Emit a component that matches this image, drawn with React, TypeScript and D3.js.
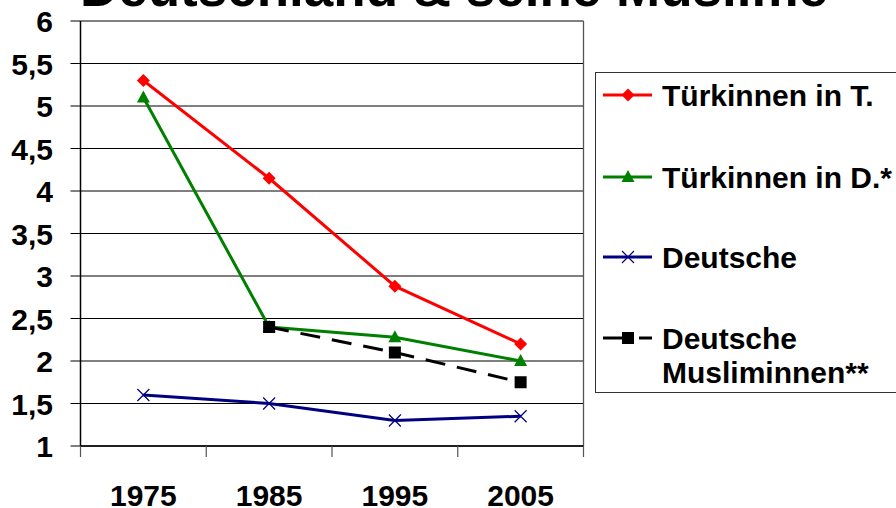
import React from "react";
import * as d3 from "d3";

const years = ["1975", "1985", "1995", "2005"];
const tuerkinnenT = [5.3, 4.15, 2.88, 2.2];
const tuerkinnenD = [5.1, 2.4, 2.28, 2.0];
const deutsche = [1.6, 1.5, 1.3, 1.35];
const deutscheMusliminnen: (number | null)[] = [null, 2.4, 2.1, 1.75];
const yTicks = [1, 1.5, 2, 2.5, 3, 3.5, 4, 4.5, 5, 5.5, 6];
const title = "Deutschland & seine Muslime";

type Series = {
  name: string[];
  values: (number | null)[];
  color: string;
  marker: "diamond" | "triangle" | "x" | "square";
  dash?: string;
};

const series: Series[] = [
  { name: ["Türkinnen in T."], values: tuerkinnenT, color: "#FF0000", marker: "diamond" },
  { name: ["Türkinnen in D.*"], values: tuerkinnenD, color: "#008000", marker: "triangle" },
  { name: ["Deutsche"], values: deutsche, color: "#000080", marker: "x" },
  { name: ["Deutsche", "Musliminnen**"], values: deutscheMusliminnen, color: "#000000", marker: "square", dash: "20 12" },
];

const FONT = "'Liberation Sans', Arial, Helvetica, sans-serif";

function Marker({ type, x, y, color }: { type: Series["marker"]; x: number; y: number; color: string }) {
  if (type === "diamond") {
    const s = 6.5;
    return <path d={`M${x},${y - s}L${x + s},${y}L${x},${y + s}L${x - s},${y}Z`} fill={color} />;
  }
  if (type === "triangle") {
    return <path d={`M${x},${y - 7}L${x + 6.5},${y + 5}L${x - 6.5},${y + 5}Z`} fill={color} />;
  }
  if (type === "square") {
    return <rect x={x - 6} y={y - 6} width={12} height={12} fill={color} />;
  }
  const s = 6;
  return (
    <path
      d={`M${x - s},${y - s}L${x + s},${y + s}M${x - s},${y + s}L${x + s},${y - s}`}
      stroke={color}
      strokeWidth={1.2}
      fill="none"
    />
  );
}

export default function App() {
  const W = 896;
  const H = 508;
  const left = 80.5;
  const right = 583.5;
  const top = 21;
  const bottom = 446;

  const x = d3.scaleBand<string>().domain(years).range([left, right]);
  const y = d3.scaleLinear().domain([1, 6]).range([bottom, top]);
  const cx = (yr: string) => (x(yr) as number) + x.bandwidth() / 2;

  const line = d3
    .line<{ yr: string; v: number | null }>()
    .defined((d) => d.v !== null)
    .x((d) => cx(d.yr))
    .y((d) => y(d.v as number));

  const boundaries = [...years.map((yr) => x(yr) as number), right];

  const legendX = 595.5;
  const legendY = 72.5;
  const legendRowY = [95, 177, 257, 338];

  return (
    <svg
      width={W}
      height={H}
      style={{ position: "absolute", left: 0, top: 0, background: "#fff" }}
      fontFamily={FONT}
      fontWeight="bold"
    >
      <rect width={W} height={H} fill="#fff" />
      <text x={454} y={6} textAnchor="middle" fontSize={53} fill="#000">
        {title}
      </text>

      {/* gridlines */}
      {yTicks.map((t) => (
        <line key={t} x1={left} x2={right} y1={y(t)} y2={y(t)} stroke="#000" strokeWidth={1} />
      ))}
      {/* plot border right */}
      <line x1={right} x2={right} y1={top} y2={bottom} stroke="#555" strokeWidth={1.3} />

      {/* y axis */}
      <line x1={left} x2={left} y1={top} y2={bottom} stroke="#000" strokeWidth={1.5} />
      {yTicks.map((t) => (
        <g key={"yt" + t}>
          <line x1={left - 10} x2={left} y1={y(t)} y2={y(t)} stroke="#000" strokeWidth={1} />
          <text x={53} y={y(t) + 11} textAnchor="end" fontSize={30} fill="#000">
            {String(t).replace(".", ",")}
          </text>
        </g>
      ))}

      {/* x axis */}
      <line x1={left} x2={right} y1={bottom} y2={bottom} stroke="#000" strokeWidth={1.5} />
      {boundaries.map((b, i) => (
        <line key={"xt" + i} x1={b} x2={b} y1={bottom} y2={bottom + 11} stroke="#555" strokeWidth={1.2} />
      ))}
      {years.map((yr) => (
        <text key={yr} x={cx(yr)} y={506} textAnchor="middle" fontSize={30} fill="#000">
          {yr}
        </text>
      ))}

      {/* series */}
      {series.map((s, i) => {
        const data = years.map((yr, j) => ({ yr, v: s.values[j] }));
        return (
          <g key={"s" + i}>
            <path
              d={line(data) || ""}
              fill="none"
              stroke={s.color}
              strokeWidth={3}
              strokeDasharray={s.dash}
            />
            {data
              .filter((d) => d.v !== null)
              .map((d) => (
                <Marker key={d.yr} type={s.marker} x={cx(d.yr)} y={y(d.v as number)} color={s.color} />
              ))}
          </g>
        );
      })}

      {/* legend */}
      <rect x={legendX} y={legendY} width={320} height={320} fill="#fff" stroke="#333" strokeWidth={1} />
      {series.map((s, i) => {
        const ly = legendRowY[i];
        return (
          <g key={"l" + i}>
            {s.dash ? (
              <>
                <line x1={603} x2={624} y1={ly} y2={ly} stroke={s.color} strokeWidth={3} />
                <line x1={639} x2={652} y1={ly} y2={ly} stroke={s.color} strokeWidth={3} />
              </>
            ) : (
              <line x1={603} x2={652} y1={ly} y2={ly} stroke={s.color} strokeWidth={3} />
            )}
            <Marker type={s.marker} x={628} y={ly} color={s.color} />
            {s.name.map((n, k) => (
              <text key={k} x={662} y={ly + 11 + k * 34} fontSize={30} fill="#000">
                {n}
              </text>
            ))}
          </g>
        );
      })}
    </svg>
  );
}
